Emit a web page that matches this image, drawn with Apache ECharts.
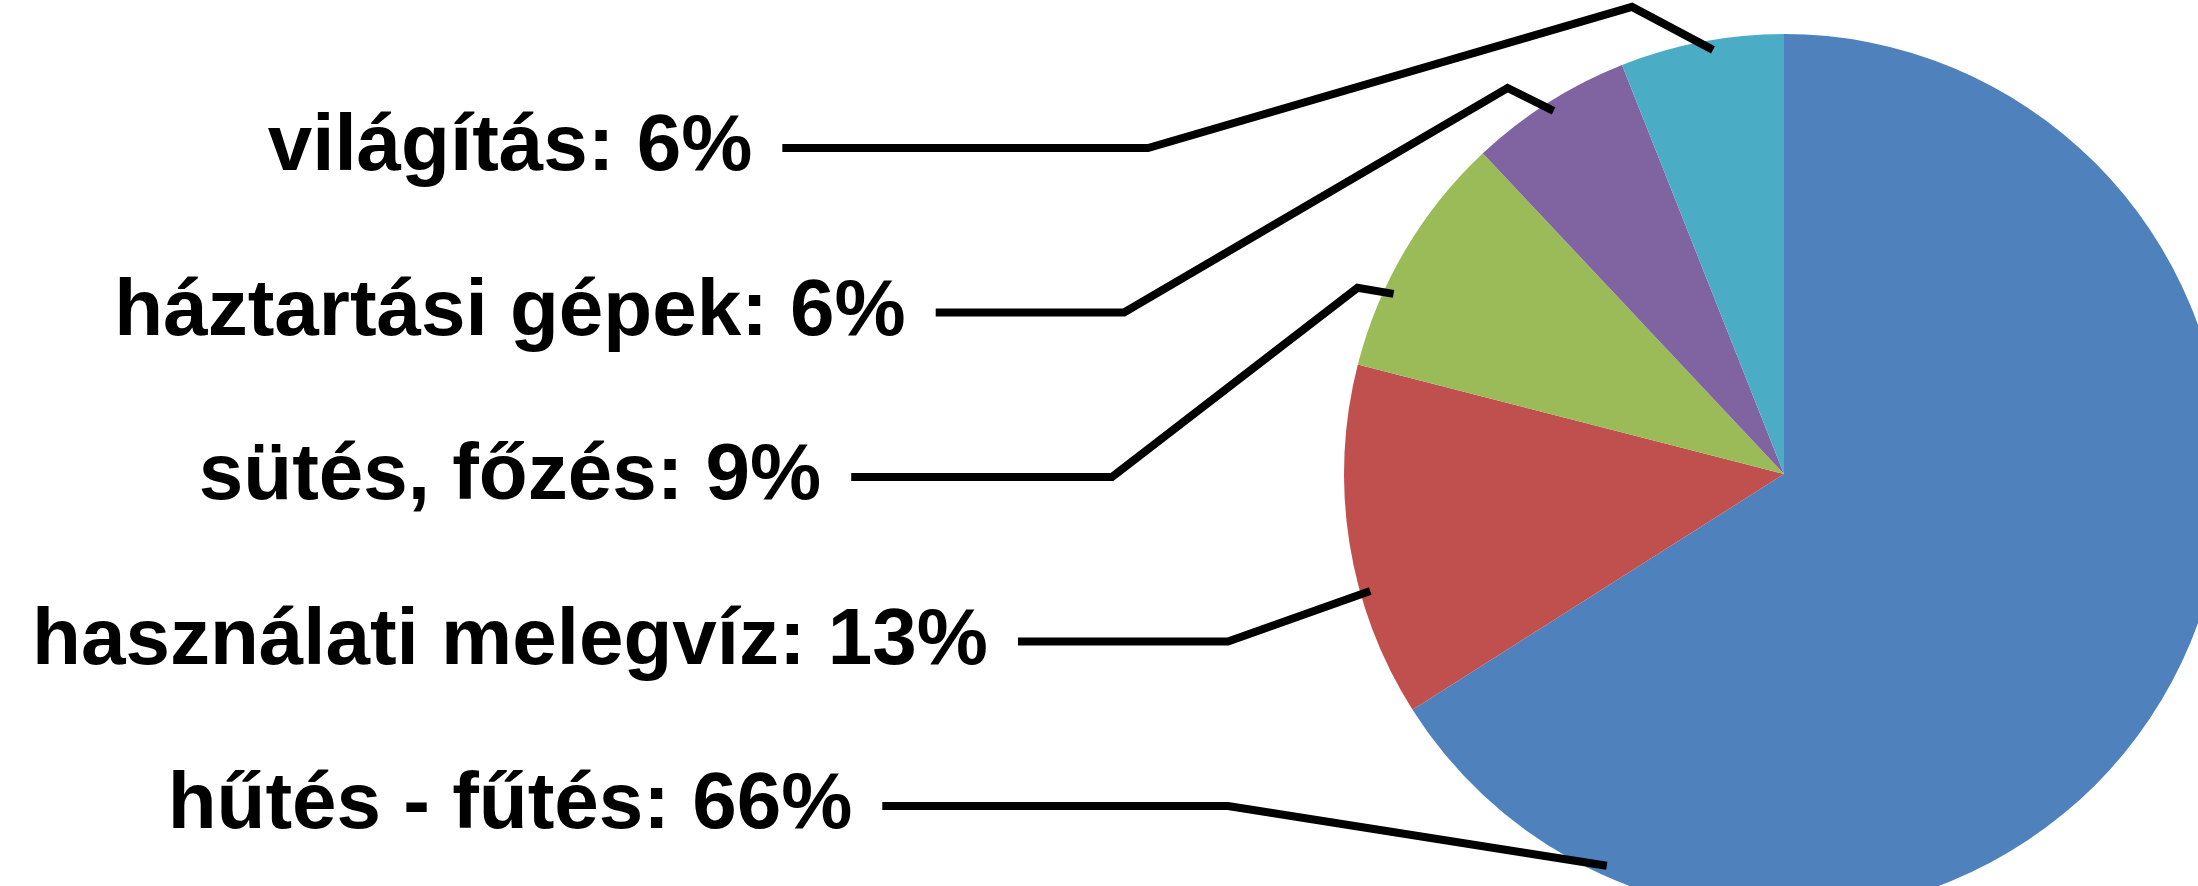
<!DOCTYPE html>
<html>
<head>
<meta charset="utf-8">
<script src="https://cdn.jsdelivr.net/npm/echarts@6/dist/echarts.min.js"></script>
<style>
  html, body { margin: 0; padding: 0; background: #fff; }
  #chart { width: 2198px; height: 886px; }
</style>
</head>
<body>
<div id="chart"></div>
<script>
// adatok
var categories = ['hűtés - fűtés', 'használati melegvíz', 'sütés, főzés', 'háztartási gépek', 'világítás']
var values = [66, 13, 9, 6, 6]
var colors = ['#4F81BD', '#C0504D', '#9BBB59', '#8064A2', '#4BACC6']

// pie geometry + label placement (style only)
var pieCenter = [1784, 474]
var pieRadius = 440
var labelX = 510
var labelBottomY = 806
var labelStep = 164.5
// leader line: where it touches the slice (fraction of slice), short elbow, knee x
var leaderFrac = [0.86, 0.355, 0.32, 0.5, 0.56]
var leaderElbow = [null, null, [-36, -6], [-46, -23], [-81, -43]]
var leaderKneeX = [1228, 1228, 1112, 1124, 1148]

var total = values.reduce(function (a, b) { return a + b }, 0)
var starts = []
var acc = 0
for (var i = 0; i < values.length; i++) { starts.push(acc); acc += values[i] }

var seriesData = []
for (var i = 0; i < categories.length; i++) {
    seriesData.push({ name: categories[i], value: values[i] })
}

var myChart = echarts.init(document.getElementById('chart'))
option = {
    animation: false,
    color: colors,
    series: [
        // szeletek
        {
            type: 'pie',
            z: 2,
            center: pieCenter,
            radius: pieRadius,
            startAngle: 90,
            clockwise: true,
            silent: true,
            itemStyle: { borderWidth: 0 },
            label: { show: false },
            labelLine: { show: false },
            data: seriesData
        },
        // feliratok + vezetővonalak, a szeletek fölött
        {
            type: 'pie',
            z: 5,
            center: pieCenter,
            radius: pieRadius,
            startAngle: 90,
            clockwise: true,
            silent: true,
            avoidLabelOverlap: false,
            itemStyle: { color: 'rgba(0,0,0,0)', borderWidth: 0 },
            label: {
                show: true,
                formatter: '{b}: {c}%',
                fontFamily: 'Liberation Sans, Arial, sans-serif',
                fontWeight: 'bold',
                fontSize: 80,
                color: '#000',
                overflow: 'none'
            },
            labelLine: {
                show: true,
                length: 10,
                length2: 10,
                lineStyle: { color: '#000', width: 8, opacity: 1 }
            },
            labelLayout: function (params) {
                var i = params.dataIndex
                var y = labelBottomY - i * labelStep
                var a = (starts[i] + leaderFrac[i] * values[i]) / total * Math.PI * 2
                var rA = pieRadius - 10
                var anchor = [pieCenter[0] + rA * Math.sin(a), pieCenter[1] - rA * Math.cos(a)]
                var pts = [anchor]
                if (leaderElbow[i]) {
                    pts.push([anchor[0] + leaderElbow[i][0], anchor[1] + leaderElbow[i][1]])
                }
                pts.push([leaderKneeX[i], y])
                pts.push([labelX + params.labelRect.width / 2 + 30, y])
                return {
                    x: labelX,
                    y: y,
                    align: 'center',
                    verticalAlign: 'middle',
                    labelLinePoints: pts
                }
            },
            data: seriesData
        }
    ]
}
myChart.setOption(option)
</script>
</body>
</html>
